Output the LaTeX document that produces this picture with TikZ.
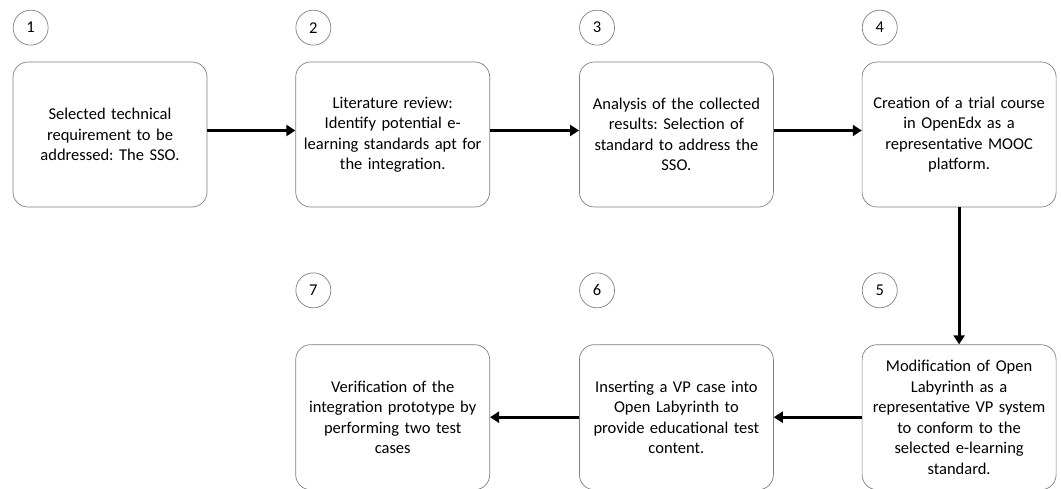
\documentclass[tikz,border=0pt]{standalone}
\usepackage{fontspec}
\setmainfont{Carlito}
\frenchspacing
\usetikzlibrary{positioning,arrows.meta}
\tikzset{
  step box/.style={rectangle, rounded corners=15pt, draw=black!50, line width=0.7pt, align=center,
    minimum width=194pt, minimum height=145pt, text width=189pt, inner sep=2pt,
    font=\fontsize{16.5pt}{20.5pt}\selectfont},
  step num/.style={circle, draw=black!50, line width=0.7pt, minimum size=35pt, inner sep=0pt,
    font=\fontsize{16.5pt}{20.5pt}\selectfont},
  step arrow/.style={line width=3pt, -{Triangle[length=9pt,width=11pt]}}
}
\begin{document}
\begin{tikzpicture}
    \useasboundingbox (0pt,0pt) rectangle (1061pt,-489pt);
    % Top row
    \node [step box] (Req) at (110pt,-134.5pt) {Selected technical\\requirement to be\\addressed: The SSO.};
    \node [step box, right=88pt of Req] (Lit) {Literature review:\\Identify potential e-\\learning standards apt for\\the integration.};
    \node [step box, right=89pt of Lit] (Ana) {Analysis of the collected\\results: Selection of\\standard to address the\\SSO.};
    \node [step box, right=88pt of Ana] (Course) {Creation of a trial course\\in OpenEdx as a\\representative MOOC\\platform.};

    % Bottom row
    \node [step box, below=137pt of Course] (Mod) {Modification of Open\\Labyrinth as a\\representative VP system\\to conform to the\\selected e-learning\\standard.};
    \node [step box, left=88pt of Mod] (Ins) {Inserting a VP case into\\Open Labyrinth to\\provide educational test\\content.};
    \node [step box, left=89pt of Ins] (Ver) {Verification of the\\integration prototype by\\performing two test\\cases};

    % Step numbers
    \node [step num] (n1) at ([xshift=18pt,yshift=34pt]Req.north west) {1};
    \node [step num] (n2) at ([xshift=18pt,yshift=34pt]Lit.north west) {2};
    \node [step num] (n3) at ([xshift=18pt,yshift=34pt]Ana.north west) {3};
    \node [step num] (n4) at ([xshift=18pt,yshift=34pt]Course.north west) {4};
    \node [step num] (n5) at ([xshift=18pt,yshift=54pt]Mod.north west) {5};
    \node [step num] (n6) at ([xshift=18pt,yshift=54pt]Ins.north west) {6};
    \node [step num] (n7) at ([xshift=18pt,yshift=54pt]Ver.north west) {7};

    % Flow
    \draw [step arrow] ([yshift=4pt]Req.east) -- ([yshift=4pt]Lit.west);
    \draw [step arrow] ([yshift=4pt]Lit.east) -- ([yshift=4pt]Ana.west);
    \draw [step arrow] ([yshift=4pt]Ana.east) -- ([yshift=4pt]Course.west);
    \draw [step arrow] (Course) -- (Mod);
    \draw [step arrow] (Mod) -- (Ins);
    \draw [step arrow] (Ins) -- (Ver);
\end{tikzpicture}
\end{document}
